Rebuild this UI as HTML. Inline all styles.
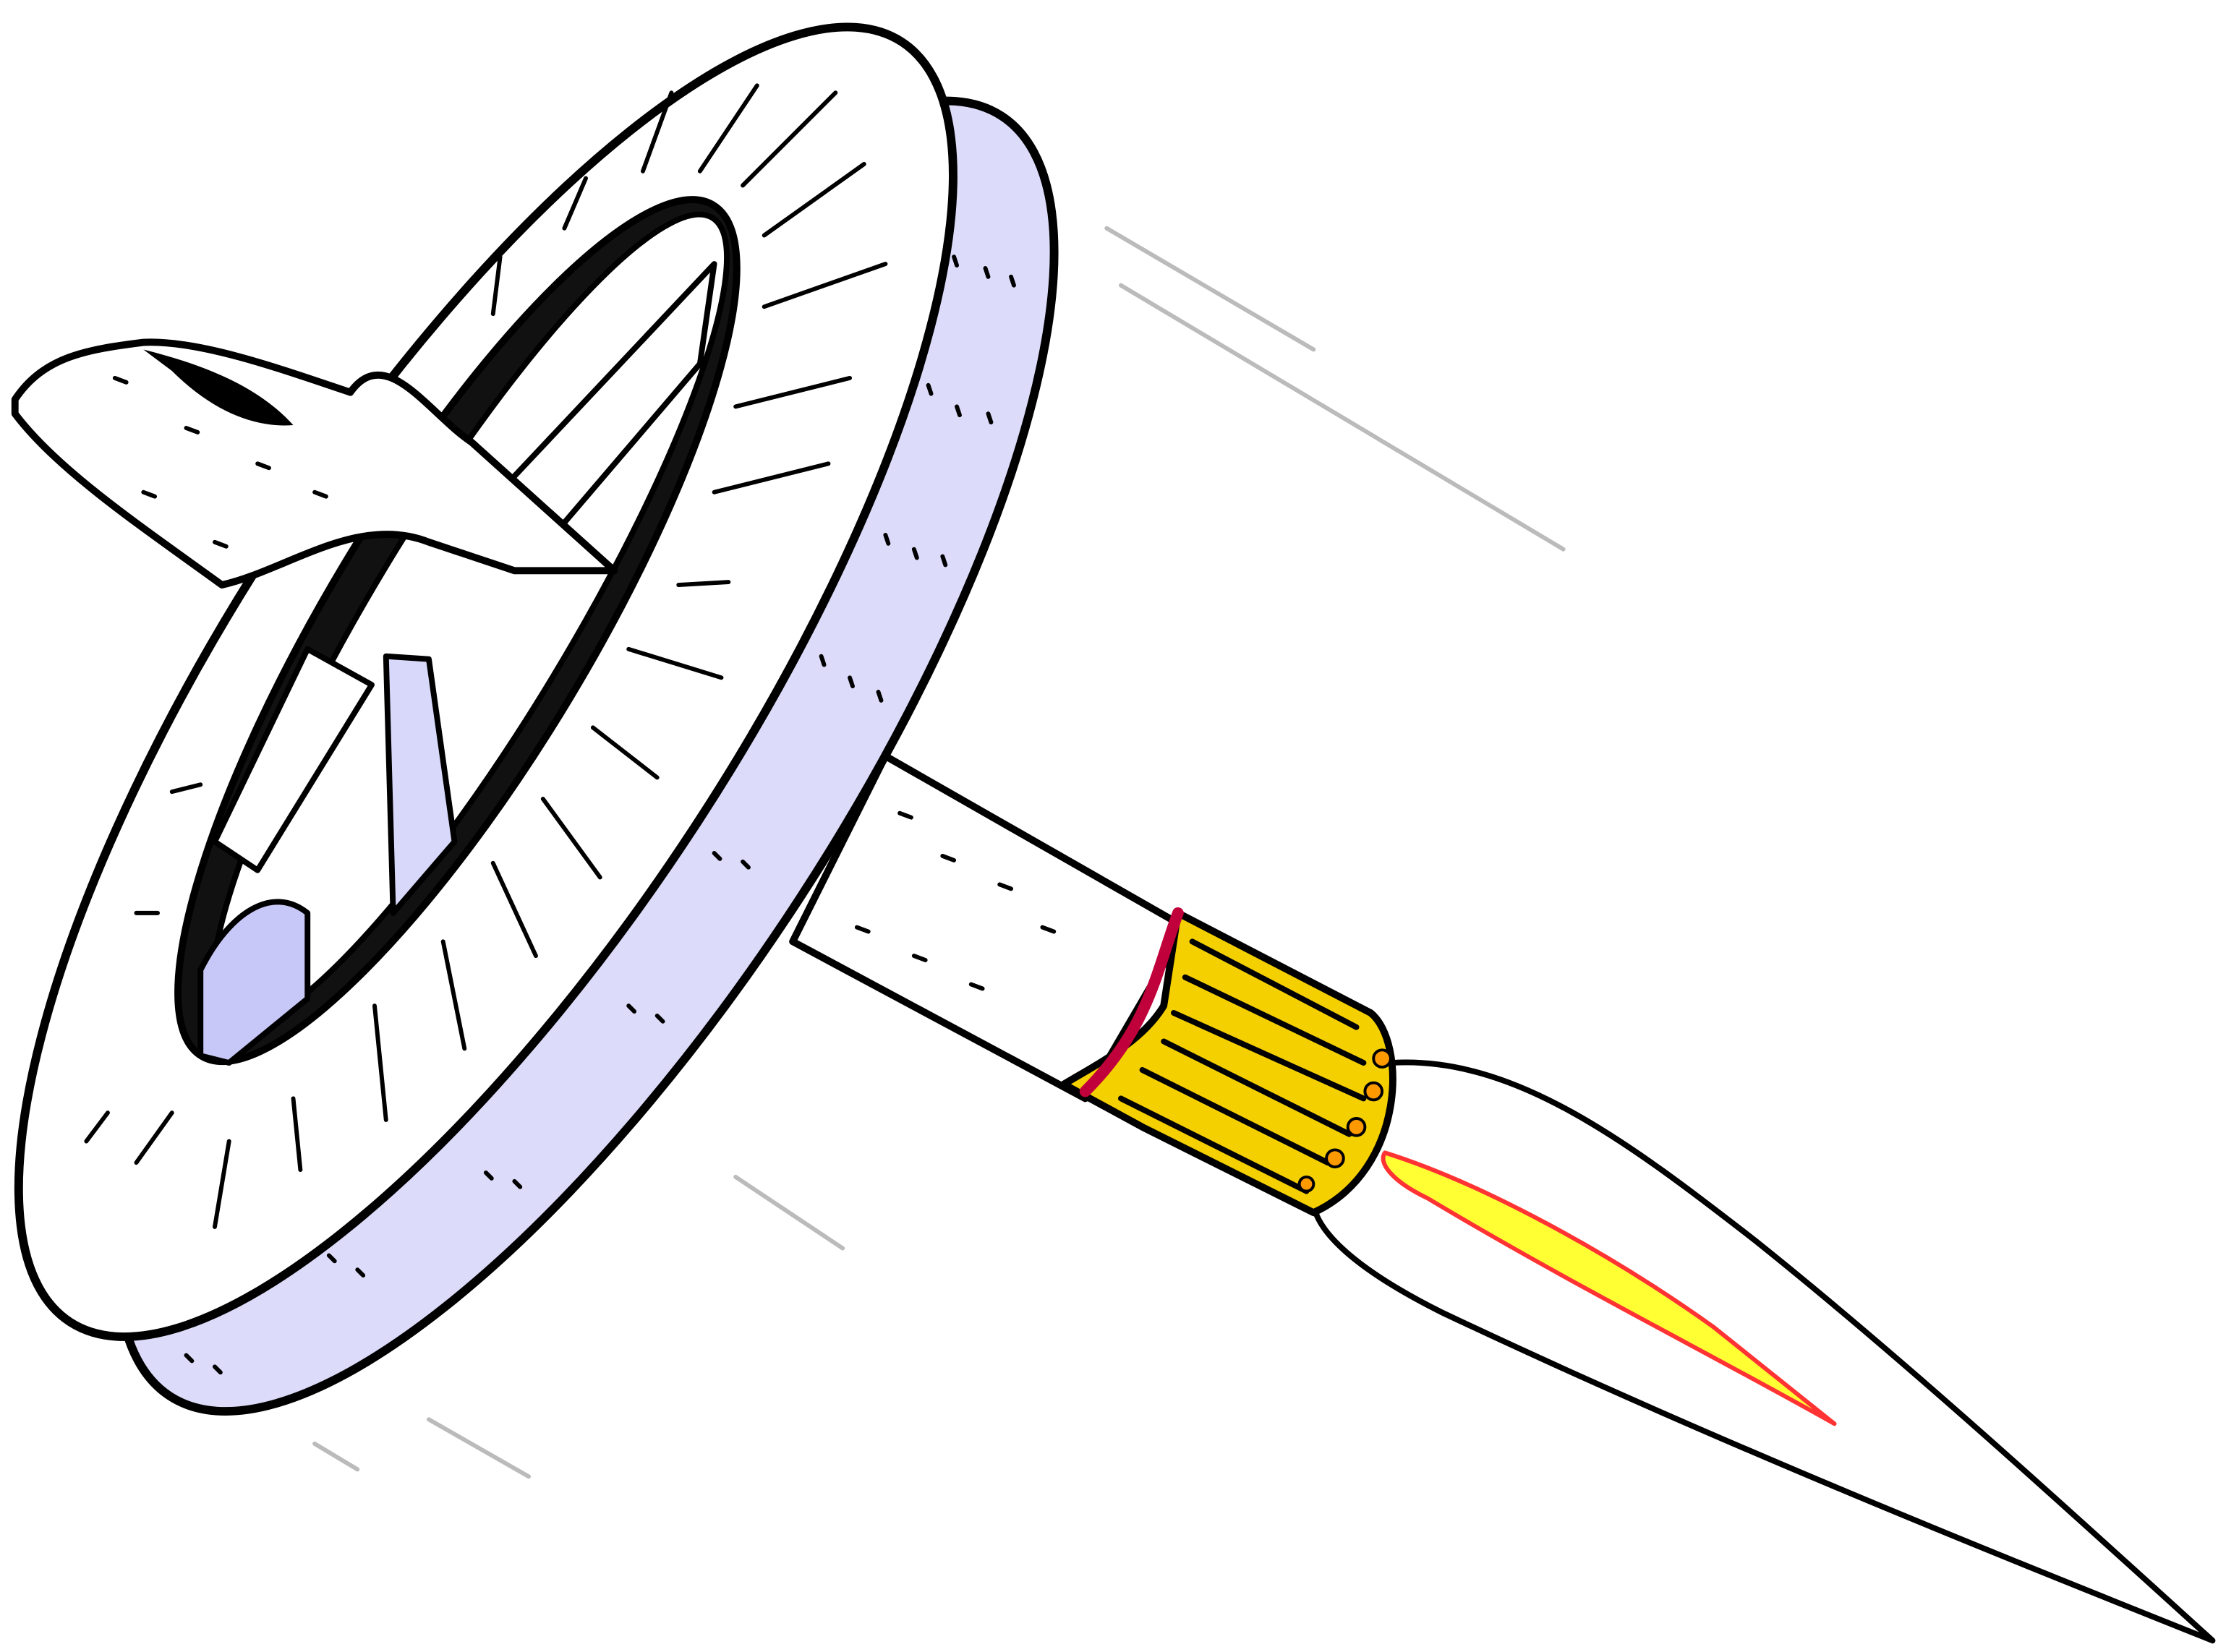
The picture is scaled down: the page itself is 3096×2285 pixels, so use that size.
<!DOCTYPE html>
<html><head><meta charset="utf-8"><style>
html,body{margin:0;padding:0;background:#fff;width:3096px;height:2285px;overflow:hidden}
svg{display:block}
</style></head><body>
<svg width="3096" height="2285" viewBox="0 0 1568 1158" xmlns="http://www.w3.org/2000/svg" stroke-linejoin="round" stroke-linecap="round">
<g stroke="#bbb" stroke-width="3" fill="none">
<path d="M775 160 L920 245"/><path d="M785 200 L1095 385"/><path d="M515 825 L590 875"/><path d="M300 995 L370 1035"/><path d="M220 1012 L250 1030"/>
</g>
<path d="M975 745 C1060 740 1140 800 1230 870 C1330 950 1440 1050 1550 1150 C1400 1090 1200 1010 1010 920 C950 890 915 860 920 835 Z" fill="#fff" stroke="#000" stroke-width="4"/>
<path d="M970 808 C1040 830 1130 880 1200 930 L1285 998 C1200 950 1100 900 1000 840 C975 828 965 815 970 808 Z" fill="#ff3" stroke="#f33" stroke-width="3"/>
<path d="M620 530 L830 650 L760 770 L555 660 Z" fill="#fff" stroke="#000" stroke-width="5"/>
<path d="M825 640 L960 710 C985 730 985 820 920 850 L800 790 L745 760 C770 745 800 730 815 705 Z" fill="#f5d000" stroke="#000" stroke-width="5"/>
<path d="M825 640 C810 680 805 720 760 765" fill="none" stroke="#c0003a" stroke-width="8"/>
<g stroke="#000" stroke-width="4" fill="none">
<path d="M835 660 L950 720"/><path d="M830 685 L955 745"/><path d="M822 710 L955 770"/><path d="M815 730 L945 795"/><path d="M800 750 L930 815"/><path d="M785 770 L915 835"/>
</g>
<g fill="#f90" stroke="#000" stroke-width="2"><circle cx="968" cy="742" r="6"/><circle cx="962" cy="765" r="6"/><circle cx="950" cy="790" r="6"/><circle cx="935" cy="812" r="6"/><circle cx="915" cy="830" r="5"/></g>
<g transform="rotate(-57 410 530)">
<ellipse cx="410" cy="530" rx="535" ry="180" fill="#dcdcfa" stroke="#000" stroke-width="6"/>
</g>
<g transform="rotate(-57 340 478)">
<ellipse cx="340" cy="478" rx="535" ry="178" fill="#fff" stroke="#000" stroke-width="6"/>
</g>
<g transform="rotate(-59 320 442)">
<ellipse cx="320" cy="442" rx="348" ry="92" fill="#111" stroke="#000" stroke-width="5"/>
<ellipse cx="330" cy="446" rx="330" ry="70" fill="#fff" stroke="#000" stroke-width="4"/>
</g>
<path d="M140 680 C160 640 190 620 215 640 L215 700 L160 745 L140 740 Z" fill="#c8c8f8" stroke="#000" stroke-width="4"/>
<path d="M270 460 L300 462 L318 590 L275 640 Z" fill="#d8d8fa" stroke="#000" stroke-width="4"/>
<path d="M340 355 L500 185 L490 255 L385 378 L365 385 Z" fill="#fff" stroke="#000" stroke-width="4"/>
<path d="M150 590 L215 455 L260 480 L180 610 Z" fill="#fff" stroke="#000" stroke-width="4"/>
<path d="M10 280 C30 250 60 245 100 240 C140 238 200 260 245 275 C270 240 300 290 330 310 L430 400 L360 400 L300 380 C250 360 200 400 155 410 C100 370 40 330 10 290 Z" fill="#fff" stroke="#000" stroke-width="5"/>
<path d="M100 245 C140 255 180 270 205 298 C180 300 150 290 120 260 Z" fill="#000"/>
<g stroke="#000" stroke-width="3">
<path d="M668 180 l2 6 M690 188 l2 6 M708 194 l2 6 M650 270 l2 6 M670 285 l2 6 M692 290 l2 6 M620 375 l2 6 M640 385 l2 6 M660 390 l2 6 M575 460 l2 6 M595 475 l2 6 M615 485 l2 6 M500 598 l4 4 M520 604 l4 4 M440 705 l4 4 M460 712 l4 4 M340 822 l4 4 M360 828 l4 4 M230 880 l4 4 M250 890 l4 4 M130 950 l4 4 M150 958 l4 4"/>
<path d="M630 570 l8 3 M660 600 l8 3 M700 620 l8 3 M730 650 l8 3 M600 650 l8 3 M640 670 l8 3 M680 690 l8 3 M80 265 l8 3 M130 300 l8 3 M180 325 l8 3 M220 345 l8 3 M100 345 l8 3 M150 380 l8 3"/>
</g>
<g stroke="#000" stroke-width="3">
<path d="M470 65 L450 120"/><path d="M530 60 L490 120"/><path d="M585 65 L520 130"/><path d="M605 115 L535 165"/><path d="M620 185 L535 215"/><path d="M595 265 L515 285"/><path d="M580 325 L500 345"/><path d="M510 408 L475 410"/><path d="M505 475 L440 455"/><path d="M460 545 L415 510"/><path d="M420 615 L380 560"/><path d="M375 670 L345 605"/><path d="M325 735 L310 660"/><path d="M270 785 L262 705"/><path d="M210 820 L205 770"/><path d="M150 860 L160 800"/><path d="M95 815 L120 780"/><path d="M60 800 L75 780"/><path d="M350 180 L345 220"/><path d="M410 125 L395 160"/><path d="M110 640 L95 640"/><path d="M120 555 L140 550"/></g>
</svg>
</body></html>
